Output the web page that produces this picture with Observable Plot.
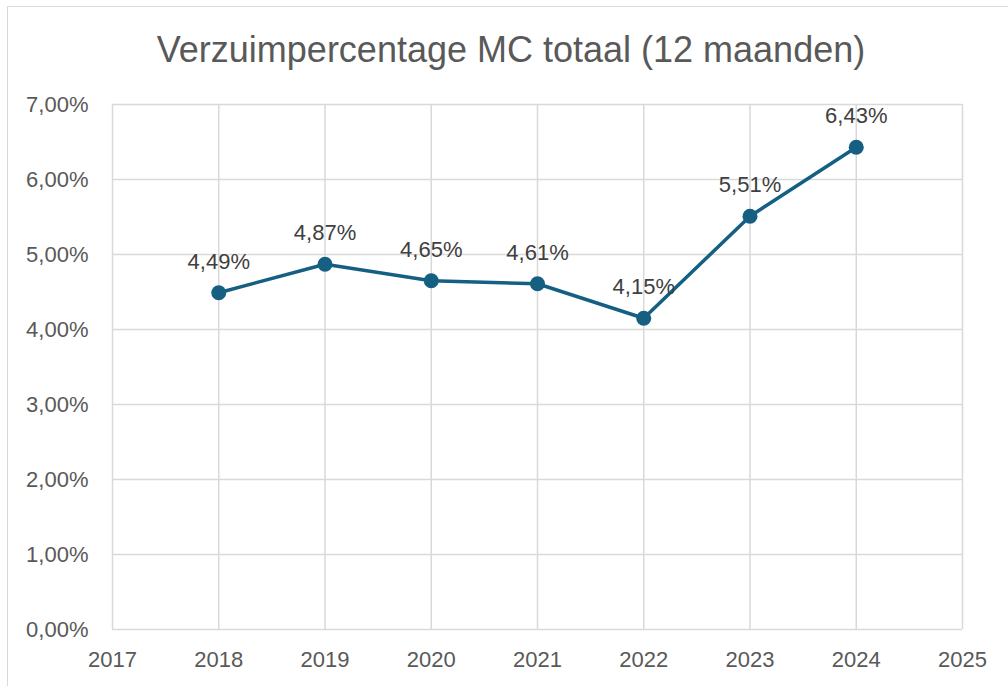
<!DOCTYPE html>
<html>
<head>
<meta charset="utf-8">
<script src="https://cdn.jsdelivr.net/npm/d3@7"></script>
<script src="https://cdn.jsdelivr.net/npm/@observablehq/plot@0.6"></script>
<style>
  html, body { margin: 0; padding: 0; background: #fff; }
  #wrap { position: relative; width: 1008px; height: 686px; overflow: hidden; font-family: "Liberation Sans", Arial, sans-serif; }
  #frame { position: absolute; left: 7px; top: 6px; width: 1010px; height: 700px; border: 1.5px solid #d9d9d9; box-sizing: border-box; }
  #title { position: absolute; left: 0; top: 30px; width: 1022px; text-align: center; font-size: 36px; color: #595959; line-height: 40px; white-space: nowrap; }
  #chart { position: absolute; left: 0; top: 0; }
</style>
</head>
<body>
<div id="wrap">
  <div id="frame"></div>
  <div id="chart"></div>
  <div id="title">Verzuimpercentage MC totaal (12 maanden)</div>
</div>
<script>
const years = [2018, 2019, 2020, 2021, 2022, 2023, 2024];
const values = [0.0449, 0.0487, 0.0465, 0.0461, 0.0415, 0.0551, 0.0643];
const xTicks = [2017, 2018, 2019, 2020, 2021, 2022, 2023, 2024, 2025];
const yTicks = [0, 0.01, 0.02, 0.03, 0.04, 0.05, 0.06, 0.07];

const nl = d3.formatLocale({decimal: ",", thousands: ".", grouping: [3], currency: ["€", ""]});
const pct = nl.format(".2%");

const data = years.map((y, i) => ({year: y, value: values[i]}));

const chart = Plot.plot({
  width: 1008,
  height: 686,
  marginTop: 104,
  marginLeft: 112,
  marginRight: 46,
  marginBottom: 57,
  style: {fontFamily: "Liberation Sans, Arial, sans-serif", background: "transparent", overflow: "visible"},
  x: {domain: [2017, 2025], ticks: xTicks, tickFormat: d => String(d), label: null, tickSize: 0, tickPadding: 24},
  y: {domain: [0, 0.07], ticks: yTicks, tickFormat: pct, label: null, tickSize: 0, tickPadding: 24},
  marks: [
    Plot.ruleX(xTicks, {stroke: "#d9d9d9", strokeWidth: 1.5}),
    Plot.ruleY(yTicks, {stroke: "#d9d9d9", strokeWidth: 1.5}),
    Plot.axisX({ticks: xTicks, tickFormat: d => String(d), tickSize: 0, tickPadding: 22, fontSize: 22, fill: "#595959", label: null}),
    Plot.axisY({ticks: yTicks, tickFormat: pct, tickSize: 0, tickPadding: 24, fontSize: 22, fill: "#595959", label: null}),
    Plot.line(data, {x: "year", y: "value", stroke: "#156082", strokeWidth: 3.5}),
    Plot.dot(data, {x: "year", y: "value", r: 7.5, fill: "#156082", stroke: null}),
    Plot.text(data, {x: "year", y: "value", text: d => pct(d.value), dy: -31, fontSize: 22, fill: "#404040"})
  ]
});
document.getElementById("chart").appendChild(chart);
</script>
</body>
</html>
